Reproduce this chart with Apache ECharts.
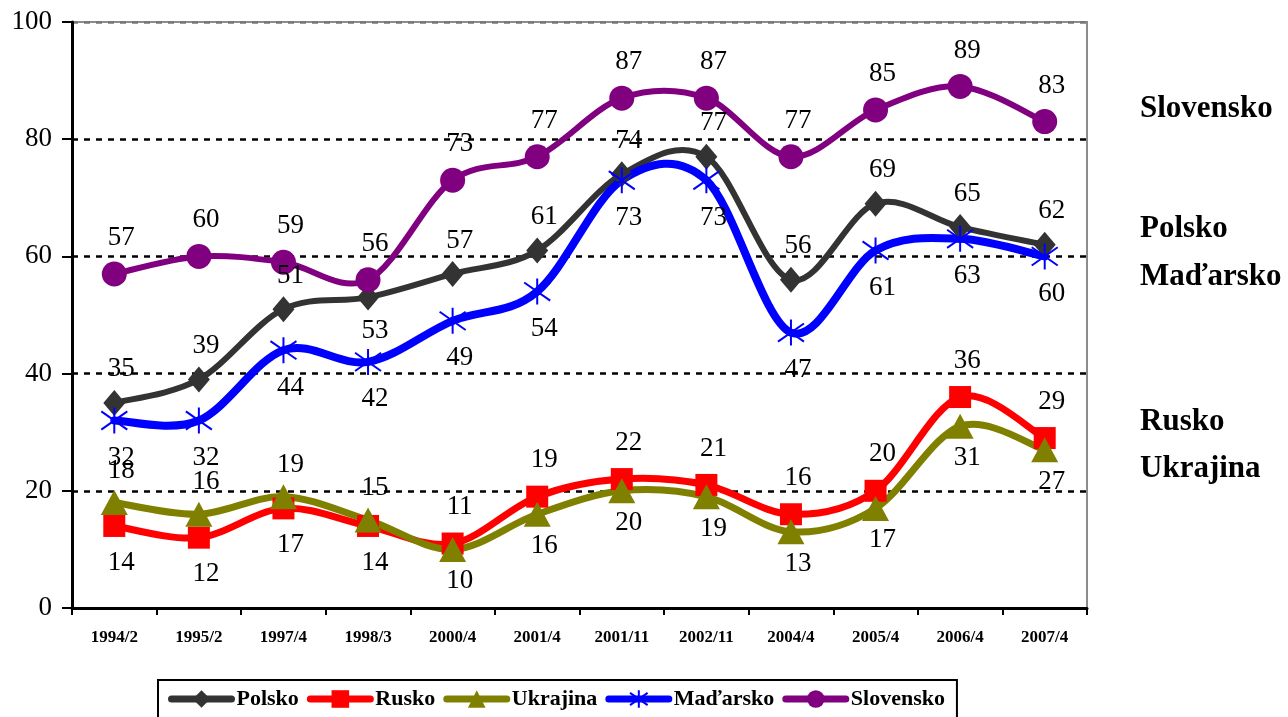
<!DOCTYPE html>
<html>
<head>
<meta charset="utf-8">
<script src="https://cdn.jsdelivr.net/npm/echarts@6/dist/echarts.min.js"></script>
<style>
  html, body { margin: 0; padding: 0; background: #fff; }
  #chart { width: 1288px; height: 717px; }
</style>
</head>
<body>
<div id="chart"></div>
<script>
// categories and values
const categories = ['1994/2', '1995/2', '1997/4', '1998/3', '2000/4', '2001/4', '2001/11', '2002/11', '2004/4', '2005/4', '2006/4', '2007/4']
const polsko = [35, 39, 51, 53, 57, 61, 74, 77, 56, 69, 65, 62]
const rusko = [14, 12, 17, 14, 11, 19, 22, 21, 16, 20, 36, 29]
const ukrajina = [18, 16, 19, 15, 10, 16, 20, 19, 13, 17, 31, 27]
const madarsko = [32, 32, 44, 42, 49, 54, 73, 73, 47, 61, 63, 60]
const slovensko = [57, 60, 59, 56, 73, 77, 87, 87, 77, 85, 89, 83]
const yTicks = [0, 20, 40, 60, 80, 100]

// which side of the point each value label sits on (t = above, b = below)
const polskoSide = ['t', 't', 't', 'b', 't', 't', 't', 't', 't', 't', 't', 't']
const ruskoSide = ['b', 'b', 'b', 'b', 't', 't', 't', 't', 't', 't', 't', 't']
const ukrajinaSide = ['t', 't', 't', 't', 'b', 'b', 'b', 'b', 'b', 'b', 'b', 'b']
const madarskoSide = ['b', 'b', 'b', 'b', 'b', 'b', 'b', 'b', 'b', 'b', 'b', 'b']
const slovenskoSide = ['t', 't', 't', 't', 't', 't', 't', 't', 't', 't', 't', 't']

const serif = "'Times New Roman', 'Liberation Serif', serif"
const asterisk = 'path://M5,0L5,10M0,1.5L10,8.5M0,8.5L10,1.5'

function buildData(values, sides, dist) {
    return values.map((v, i) => ({
        value: v,
        label: { position: sides[i] === 't' ? 'top' : 'bottom', distance: dist }
    }))
}

// markers + labels (line itself is hidden, drawn by the curve series below)
function makeSeries(name, values, sides, color, symbol, size, width, dist) {
    return {
        name: name,
        type: 'line',
        z: 3,
        data: buildData(values, sides, dist),
        symbol: symbol,
        symbolSize: size,
        showAllSymbol: true,
        color: color,
        lineStyle: { color: color, width: width, opacity: 0 },
        itemStyle: { color: color, borderColor: color, borderWidth: symbol === asterisk ? 2 : 0 },
        label: {
            show: true,
            offset: [7, 0],
            color: '#000',
            fontFamily: serif,
            fontSize: 27
        }
    }
}

// Excel-like smoothed line: cubic bezier per segment, control points from neighbours
function makeCurve(name, values, color, width) {
    const n = values.length
    return {
        name: name + '-curve',
        type: 'custom',
        z: 2,
        silent: true,
        data: values.map((v, i) => [i, v]),
        encode: { x: 0, y: 1 },
        renderItem: function (params, api) {
            const i = params.dataIndex
            if (i >= n - 1) return null
            const a = Math.max(i - 1, 0)
            const d = Math.min(i + 2, n - 1)
            const p0 = api.coord([a, values[a]])
            const p1 = api.coord([i, values[i]])
            const p2 = api.coord([i + 1, values[i + 1]])
            const p3 = api.coord([d, values[d]])
            return {
                type: 'bezierCurve',
                shape: {
                    x1: p1[0], y1: p1[1],
                    x2: p2[0], y2: p2[1],
                    cpx1: p1[0] + (p2[0] - p0[0]) / 6,
                    cpy1: p1[1] + (p2[1] - p0[1]) / 6,
                    cpx2: p2[0] - (p3[0] - p1[0]) / 6,
                    cpy2: p2[1] - (p3[1] - p1[1]) / 6
                },
                style: { stroke: color, lineWidth: width, fill: null, lineCap: 'round' }
            }
        }
    }
}

const chart = echarts.init(document.getElementById('chart'))

const option = {
    animation: false,
    backgroundColor: '#fff',
    textStyle: { fontFamily: serif },
    grid: {
        left: 72, right: 201, top: 22, bottom: 109,
        show: true, borderColor: '#8c8c8c', borderWidth: 2, backgroundColor: 'transparent'
    },
    legend: {
        left: 158,
        top: 680,
        padding: [8, 12, 20, 10],
        borderColor: '#000',
        borderWidth: 2,
        itemWidth: 60,
        itemHeight: 22,
        itemGap: 8,
        lineStyle: { width: 7, opacity: 1, cap: 'round' },
        textStyle: { fontFamily: serif, fontWeight: 'bold', fontSize: 22, color: '#000' },
        data: ['Polsko', 'Rusko', 'Ukrajina', 'Maďarsko', 'Slovensko']
    },
    xAxis: {
        type: 'category',
        data: categories,
        boundaryGap: true,
        axisLine: { lineStyle: { color: '#000', width: 3 } },
        axisTick: { show: true, length: 7, lineStyle: { color: '#000', width: 2 } },
        axisLabel: { color: '#000', fontFamily: serif, fontWeight: 'bold', fontSize: 17, margin: 21, interval: 0 },
        splitLine: { show: false }
    },
    yAxis: {
        type: 'value',
        min: yTicks[0],
        max: yTicks[yTicks.length - 1],
        interval: 20,
        axisLine: { show: true, lineStyle: { color: '#000', width: 3 } },
        axisTick: { show: true, length: 10, lineStyle: { color: '#000', width: 2 } },
        axisLabel: { color: '#000', fontFamily: serif, fontSize: 27, margin: 20 },
        splitLine: {
            show: true,
            lineStyle: { color: ['#000', '#000', '#000', '#000', '#000', '#777'], width: 2.5, type: [6, 6] }
        }
    },
    graphic: [
        { type: 'text', left: 1140, top: 93, style: { text: 'Slovensko', font: "bold 31px " + serif, fill: '#000' } },
        { type: 'text', left: 1140, top: 213, style: { text: 'Polsko', font: "bold 31px " + serif, fill: '#000' } },
        { type: 'text', left: 1140, top: 261, style: { text: 'Maďarsko', font: "bold 31px " + serif, fill: '#000' } },
        { type: 'text', left: 1140, top: 406, style: { text: 'Rusko', font: "bold 31px " + serif, fill: '#000' } },
        { type: 'text', left: 1140, top: 453, style: { text: 'Ukrajina', font: "bold 31px " + serif, fill: '#000' } }
    ],
    series: [
        makeCurve('Polsko', polsko, '#333333', 6),
        makeCurve('Rusko', rusko, '#ff0000', 7),
        makeCurve('Ukrajina', ukrajina, '#808000', 7),
        makeCurve('Maďarsko', madarsko, '#0000ff', 8),
        makeCurve('Slovensko', slovensko, '#800080', 6),
        makeSeries('Polsko', polsko, polskoSide, '#333333', 'diamond', [22, 26], 6, 7),
        makeSeries('Rusko', rusko, ruskoSide, '#ff0000', 'rect', [22, 22], 7, 12),
        makeSeries('Ukrajina', ukrajina, ukrajinaSide, '#808000', 'triangle', [27, 25], 7, 6),
        makeSeries('Maďarsko', madarsko, madarskoSide, '#0000ff', asterisk, [26, 26], 8, 10),
        makeSeries('Slovensko', slovensko, slovenskoSide, '#800080', 'circle', 25, 6, 10)
    ]
}

chart.setOption(option)
</script>
</body>
</html>
